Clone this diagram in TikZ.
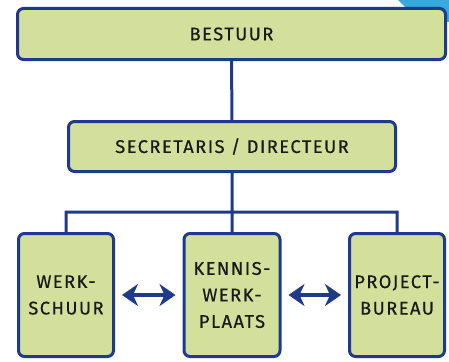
\documentclass[tikz,border=0pt]{standalone}
\usepackage{fontspec}
\setmainfont{Fira Sans}[LetterSpace=8, FakeBold=0.4]
\usetikzlibrary{arrows.meta}
\definecolor{boxgreen}{HTML}{D3E09C}
\definecolor{navy}{HTML}{1F3A8C}
\definecolor{skyblue}{HTML}{36A9DD}
\begin{document}
\begin{tikzpicture}[x=1pt,y=-1pt,
  unit/.style={draw=navy, fill=boxgreen, line width=3pt, rounded corners=6pt,
    font=\fontsize{18.3}{26.5}\selectfont, text=black!90, align=center, inner sep=0pt},
  link/.style={draw=navy, line width=3pt},
  both/.style={navy, line width=4pt, {Stealth[length=16pt,width=22pt,inset=5pt]}-{Stealth[length=16pt,width=22pt,inset=5pt]},
    shorten <=7pt, shorten >=7pt}]
\useasboundingbox (0,0) rectangle (449,361);
\fill[skyblue] (398,0) -- (449,0) -- (449,22) -- (420,22) -- cycle;

\node (0) at (231.5,34) [unit, minimum width=428pt, minimum height=51pt] {BESTUUR};
\node (1) at (232,146.5) [unit, minimum width=327pt, minimum height=50pt] {SECRETARIS / DIRECTEUR};
\node (2) at (66,295) [unit, minimum width=95pt, minimum height=123pt] {WERK-\\SCHUUR};
\node (3) at (232,295) [unit, minimum width=96pt, minimum height=123pt] {KENNIS-\\WERK-\\PLAATS};
\node (4) at (397,295) [unit, minimum width=95pt, minimum height=123pt] {PROJECT-\\BUREAU};
\coordinate (bar) at (232,212);

\draw[link]
(0) to (1)
(1) to (3)
(2) |- (bar) -| (4);
\draw[both] (2) to (3);
\draw[both] (3) to (4);
\end{tikzpicture}
\end{document}
